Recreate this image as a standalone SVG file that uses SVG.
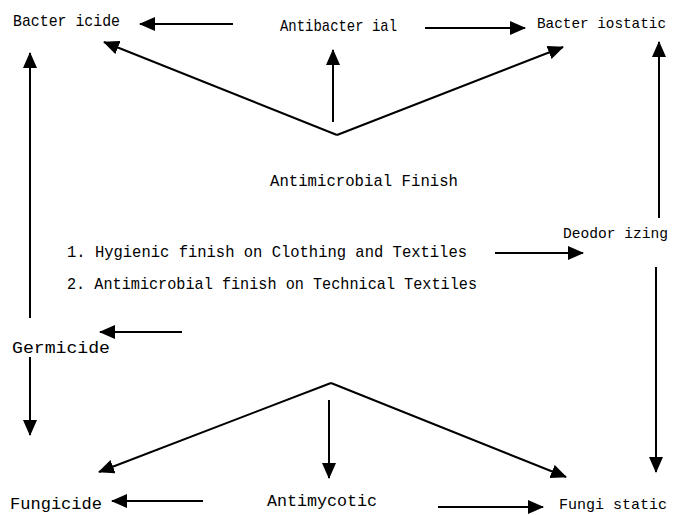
<svg xmlns="http://www.w3.org/2000/svg" width="683" height="515" viewBox="0 0 683 515">
<style>
text{font-family:"Liberation Mono","Courier New",monospace;font-size:17px;fill:#000}
.r{font-size:15px}
.c line{stroke:#000;stroke-width:2;fill:none;marker-end:url(#ah)}
</style>
<defs>
<marker id="ah" markerUnits="userSpaceOnUse" markerWidth="16" markerHeight="14" refX="15" refY="7" orient="auto" viewBox="0 0 16 14">
<path d="M0,0 L16,7 L0,14 Z" fill="#000"/>
</marker>
</defs>
<rect width="683" height="515" fill="#fff"/>
<g id="bactericide"><text x="13" y="26" textLength="107" lengthAdjust="spacingAndGlyphs">Bacter icide</text></g>
<g id="antibacterial"><text x="280" y="31" textLength="117" lengthAdjust="spacingAndGlyphs">Antibacter ial</text></g>
<g id="bacteriostatic"><text class="r" x="537" y="28" textLength="129" lengthAdjust="spacingAndGlyphs">Bacter iostatic</text></g>
<g id="antimicrobial-finish"><text x="270" y="186" textLength="188" lengthAdjust="spacingAndGlyphs">Antimicrobial Finish</text></g>
<g id="deodorizing"><text class="r" x="563" y="238" textLength="105" lengthAdjust="spacingAndGlyphs">Deodor izing</text></g>
<g id="list">
<text x="67" y="257" textLength="400" lengthAdjust="spacingAndGlyphs">1. Hygienic finish on Clothing and Textiles</text>
<text x="67" y="289" textLength="410" lengthAdjust="spacingAndGlyphs">2. Antimicrobial finish on Technical Textiles</text>
</g>
<g id="germicide"><text x="12" y="353" textLength="98" lengthAdjust="spacingAndGlyphs">Germicide</text></g>
<g id="fungicide"><text x="10" y="509" textLength="92" lengthAdjust="spacingAndGlyphs">Fungicide</text></g>
<g id="antimycotic"><text x="267" y="506" textLength="110" lengthAdjust="spacingAndGlyphs">Antimycotic</text></g>
<g id="fungistatic"><text class="r" x="559" y="509" textLength="108" lengthAdjust="spacingAndGlyphs">Fungi static</text></g>
<g id="connectors" class="c">
<line x1="233" y1="24" x2="140" y2="24"/>
<line x1="425" y1="28" x2="525" y2="28"/>
<line x1="337" y1="135" x2="104" y2="42"/>
<line x1="337" y1="135" x2="563" y2="47"/>
<line x1="333" y1="122" x2="333" y2="50"/>
<line x1="30" y1="318" x2="30" y2="53"/>
<line x1="659" y1="218" x2="659" y2="42"/>
<line x1="495" y1="253" x2="583" y2="253"/>
<line x1="182" y1="332" x2="100" y2="332"/>
<line x1="30" y1="357" x2="30" y2="435"/>
<line x1="656" y1="267" x2="656" y2="472"/>
<line x1="331" y1="383" x2="99" y2="472"/>
<line x1="331" y1="383" x2="566" y2="477"/>
<line x1="329" y1="400" x2="329" y2="478"/>
<line x1="203" y1="501" x2="112" y2="501"/>
<line x1="438" y1="507" x2="543" y2="507"/>
</g>
</svg>
